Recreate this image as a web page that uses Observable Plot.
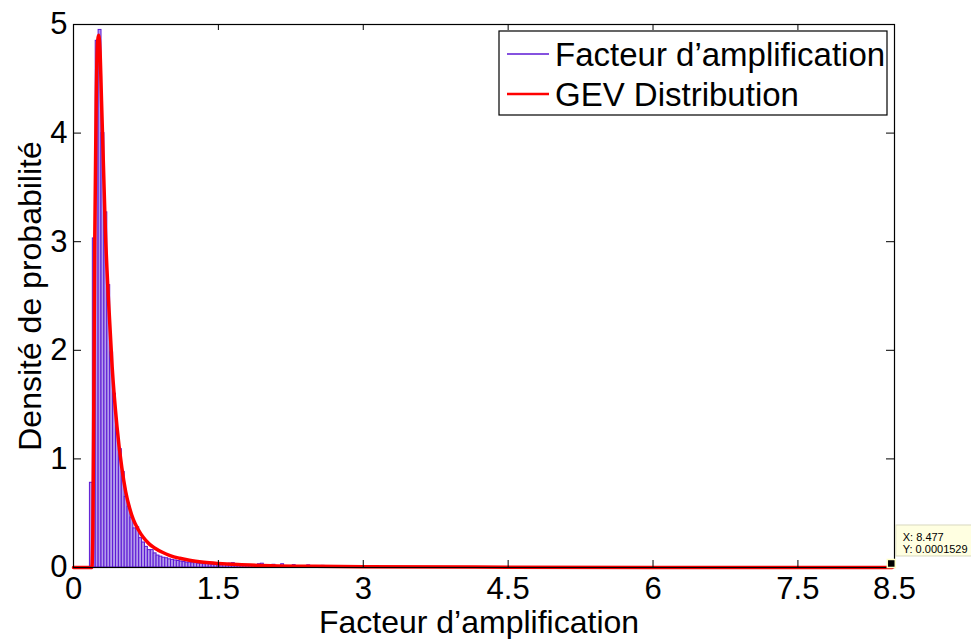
<!DOCTYPE html>
<html><head><meta charset="utf-8">
<script src="https://cdn.jsdelivr.net/npm/d3@7"></script>
<script src="https://cdn.jsdelivr.net/npm/@observablehq/plot@0.6"></script>
<style>
body{margin:0;background:#fff;}
#chart{position:relative;width:971px;height:639px;overflow:hidden;}
</style>
</head><body><div id="chart"></div>
<script>
// ---- data ----
const binStart = 0.17;
const binWidth = 0.03;
const histHeights = [0.78, 3.03, 4.85, 4.95, 4.0, 3.27, 2.6, 1.98, 1.6, 1.23, 1.09, 0.88, 0.65, 0.56, 0.46, 0.36, 0.37, 0.27, 0.23, 0.19,
  0.16, 0.16, 0.13, 0.11, 0.10, 0.09, 0.085, 0.075, 0.07, 0.065, 0.06, 0.055, 0.05, 0.045, 0.045, 0.04, 0.04, 0.035, 0.035, 0.03,
  0.035, 0.03, 0.025, 0.03, 0.025, 0.02, 0.025, 0.02, 0.035, 0.04, 0.02, 0.015, 0.02, 0.015, 0.015, 0.015, 0.02, 0.015, 0.03, 0.035,
  0.015, 0.01, 0.012, 0.025, 0.012, 0.01, 0.03, 0.01, 0.012, 0.01, 0.022, 0.01, 0.008, 0.01, 0.008, 0.02, 0.006, 0.008, 0.006, 0.005,
  0.015, 0.005, 0.004, 0.005, 0.003, 0.01, 0.003, 0.002, 0.004, 0.002, 0.006, 0.002, 0.001, 0.003, 0.001, 0.002];
const gevX = [0, 0.19, 0.20, 0.21, 0.22, 0.235, 0.25, 0.26, 0.275, 0.29, 0.31, 0.33, 0.36, 0.40, 0.45, 0.50, 0.54, 0.58, 0.62, 0.67, 0.72, 0.78, 0.84, 0.92, 1.0, 1.1, 1.2, 1.35, 1.5, 1.7, 2.05, 2.5, 3.0, 4.5, 6.0, 8.477];
const gevY = [0, 0, 0.3, 1.5, 3.0, 4.3, 4.85, 4.9, 4.75, 4.3, 3.7, 3.1, 2.5, 1.85, 1.3, 0.92, 0.70, 0.55, 0.44, 0.35, 0.28, 0.22, 0.18, 0.14, 0.11, 0.085, 0.066, 0.048, 0.037, 0.027, 0.017, 0.011, 0.007, 0.003, 0.001, 0.00015];
const xTicks = [0, 1.5, 3, 4.5, 6, 7.5, 8.5];
const yTicks = [0, 1, 2, 3, 4, 5];
const tipX = 8.477;
const tipY = 0.0001529;
const xLabel = "Facteur d’amplification";
const yLabel = "Densité de probabilité";
const legendLabels = ["Facteur d’amplification", "GEV Distribution"];

// ---- derived tables ----
const bins = histHeights.map((h, i) => ({x1: binStart + i * binWidth, x2: binStart + (i + 1) * binWidth, y: h}));
const gev = gevX.map((x, i) => ({x, y: gevY[i]}));

const W = 971, H = 639, mL = 73, mR = 77, mT = 24, mB = 72;
const innerW = W - mL - mR, innerH = H - mT - mB;
const font = "'Liberation Sans', Arial, sans-serif";
const histStroke = "#5c18d4", histFill = "#b49ceb", gevColor = "#ff0000";

const plot = Plot.plot({
  width: W, height: H,
  marginLeft: mL, marginRight: mR, marginTop: mT, marginBottom: mB,
  x: {domain: [0, 8.5]},
  y: {domain: [0, 5]},
  style: {fontFamily: font, fontSize: "32px", color: "black", background: "white", overflow: "visible"},
  marks: [
    Plot.rectY(bins, {x1: "x1", x2: "x2", y: "y", fill: histFill, stroke: histStroke, strokeWidth: 1}),
    Plot.line(gev, {x: "x", y: "y", stroke: gevColor, strokeWidth: 3.5, curve: "monotone-x"}),
    Plot.frame({stroke: "black", strokeWidth: 1.2}),
    // inward ticks
    Plot.ruleX(xTicks, {x: d => d, insetTop: innerH - 7, stroke: "black"}),
    Plot.ruleX(xTicks, {x: d => d, insetBottom: innerH - 6, stroke: "black"}),
    Plot.ruleY(yTicks, {y: d => d, insetRight: innerW - 8, stroke: "black"}),
    Plot.ruleY(yTicks, {y: d => d, insetLeft: innerW - 8, stroke: "black"}),
    // tick labels
    Plot.axisX({ticks: xTicks, tickSize: 0, tickPadding: 9, tickFormat: d => String(d), label: null, fontSize: 31}),
    Plot.axisY({ticks: yTicks, tickSize: 0, tickPadding: 6, tickFormat: d => String(d), label: null, fontSize: 31}),
    // axis titles
    Plot.text([xLabel], {frameAnchor: "bottom", dy: 55, dx: -5, fontSize: 32, textAnchor: "middle", lineAnchor: "middle", text: d => d}),
    Plot.text([yLabel], {frameAnchor: "left", dx: -43, rotate: -90, fontSize: 32, textAnchor: "middle", lineAnchor: "middle", text: d => d})
  ]
});

document.getElementById("chart").appendChild(plot);

// ---- legend ----
const svg = d3.select(plot);
const lg = svg.append("g").attr("font-family", font).attr("text-anchor", "start");
const lx = 499, ly = 31, lw = 388, lh = 84;
lg.append("rect").attr("x", lx).attr("y", ly).attr("width", lw).attr("height", lh)
  .attr("fill", "white").attr("stroke", "black").attr("stroke-width", 1.2);
const legendColors = [histStroke, gevColor];
const legendWidths = [1.5, 2.5];
legendLabels.forEach((lab, i) => {
  const cy = ly + 23 + i * 40;
  lg.append("line").attr("x1", lx + 8).attr("x2", lx + 50).attr("y1", cy).attr("y2", cy)
    .attr("stroke", legendColors[i]).attr("stroke-width", legendWidths[i]);
  lg.append("text").attr("x", lx + 56).attr("y", cy).attr("dy", "0.35em")
    .attr("font-size", 33).attr("fill", "black").text(lab);
});

// ---- data tip ----
const sx = plot.scale("x"), sy = plot.scale("y");
const px = sx.apply(tipX), py = sy.apply(tipY);
const tg = svg.append("g").attr("font-family", font).attr("text-anchor", "start");
tg.append("rect").attr("x", px + 4).attr("y", py - 42).attr("width", 90).attr("height", 31)
  .attr("fill", "#ffffe1").attr("stroke", "#d8d8c0").attr("stroke-width", 1);
tg.append("text").attr("x", px + 11).attr("y", py - 26).attr("font-size", 11).attr("fill", "black").text("X: " + tipX);
tg.append("text").attr("x", px + 11).attr("y", py - 14).attr("font-size", 11).attr("fill", "black").text("Y: " + tipY);
tg.append("rect").attr("x", px - 4.5).attr("y", py - 7.5).attr("width", 8).attr("height", 8)
  .attr("fill", "black").attr("stroke", "#ffffc8").attr("stroke-width", 1.5);
</script>
</body></html>
